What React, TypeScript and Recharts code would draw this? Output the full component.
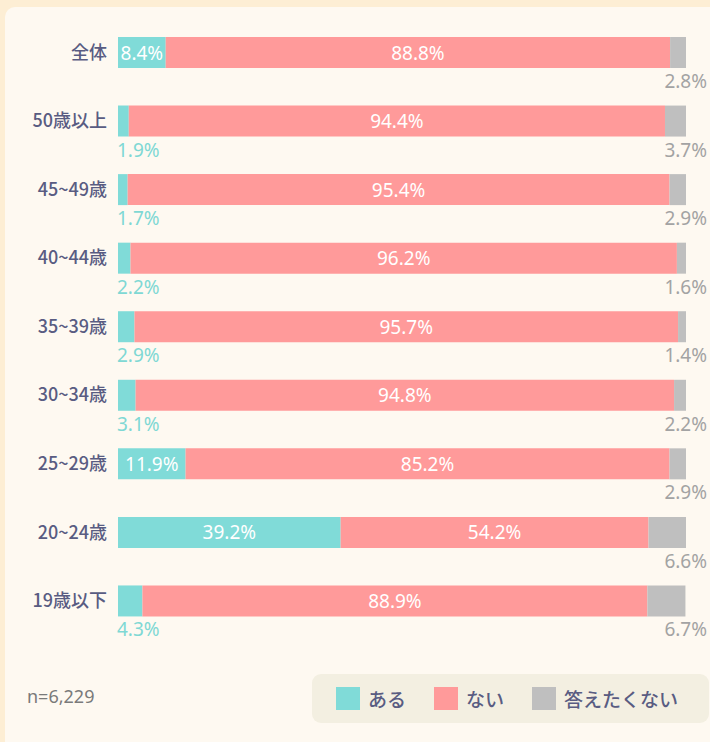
import { Bar, BarChart, LabelList, XAxis, YAxis } from "recharts";

const categories = ["全体", "50歳以上", "45~49歳", "40~44歳", "35~39歳", "30~34歳", "25~29歳", "20~24歳", "19歳以下"];
const aru = [8.4, 1.9, 1.7, 2.2, 2.9, 3.1, 11.9, 39.2, 4.3];
const nai = [88.8, 94.4, 95.4, 96.2, 95.7, 94.8, 85.2, 54.2, 88.9];
const noAnswer = [2.8, 3.7, 2.9, 1.6, 1.4, 2.2, 2.9, 6.6, 6.7];
const seriesNames = ["ある", "ない", "答えたくない"];
const sampleNote = "n=6,229";

const data = categories.map((name, i) => ({
  name,
  aru: aru[i],
  nai: nai[i],
  noAnswer: noAnswer[i],
}));

const COLORS = ["#80dbd8", "#ff9a9a", "#bfbfbf"];
const FONT = "'Noto Sans', 'Noto Sans CJK JP', sans-serif";
const JP_FONT = "'Noto Sans CJK JP', sans-serif";

const fmt = (v) => `${Number(v).toFixed(1)}%`;

function AruLabel(props) {
  const { x, y, width, height, value } = props;
  if (value >= 5) {
    return (
      <text x={x + width / 2} y={y + height / 2} fill="#fff" fontSize={19} textAnchor="middle" dominantBaseline="central" fontFamily={FONT}>
        {fmt(value)}
      </text>
    );
  }
  return (
    <text x={x - 1} y={y + height + 13} fill="#7fd8d4" fontSize={19} textAnchor="start" dominantBaseline="central" fontFamily={FONT}>
      {fmt(value)}
    </text>
  );
}

function NaiLabel(props) {
  const { x, y, width, height, value } = props;
  return (
    <text x={x + width / 2} y={y + height / 2} fill="#fff" fontSize={19} textAnchor="middle" dominantBaseline="central" fontFamily={FONT}>
      {fmt(value)}
    </text>
  );
}

function NoAnswerLabel(props) {
  const { y, height, value } = props;
  return (
    <text x={707} y={y + height + 13} fill="#a3a3a3" fontSize={19} textAnchor="end" dominantBaseline="central" fontFamily={FONT}>
      {fmt(value)}
    </text>
  );
}

export default function App() {
  return (
    <div style={{ position: "absolute", top: 0, left: 0, width: 710, height: 742, background: "#fdeed4", overflow: "hidden", fontFamily: FONT }}>
      <div style={{ position: "absolute", left: 5, top: 7, width: 720, height: 760, background: "#fef9f1", borderRadius: 10 }} />
      <div style={{ position: "absolute", left: 0, top: 0 }}>
        <BarChart width={710} height={742} data={data} layout="vertical" margin={{ top: 18, right: 24, bottom: 107, left: 0 }} barSize={31}>
          <XAxis type="number" domain={[0, 100]} hide allowDataOverflow />
          <YAxis
            type="category"
            dataKey="name"
            width={118}
            axisLine={false}
            tickLine={false}
            tickSize={0}
            tickMargin={11}
            tick={{ fill: "#595c82", fontSize: 18, fontWeight: 500, fontFamily: JP_FONT }}
          />
          <Bar dataKey="aru" stackId="a" fill={COLORS[0]} isAnimationActive={false}>
            <LabelList dataKey="aru" content={AruLabel} />
          </Bar>
          <Bar dataKey="nai" stackId="a" fill={COLORS[1]} isAnimationActive={false}>
            <LabelList dataKey="nai" content={NaiLabel} />
          </Bar>
          <Bar dataKey="noAnswer" stackId="a" fill={COLORS[2]} isAnimationActive={false}>
            <LabelList dataKey="noAnswer" content={NoAnswerLabel} />
          </Bar>
        </BarChart>
      </div>
      <div style={{ position: "absolute", left: 27, top: 684, fontSize: 18, color: "#7a7a7a" }}>{sampleNote}</div>
      <div
        style={{
          position: "absolute",
          left: 312,
          top: 674,
          width: 397,
          height: 49,
          background: "#f3efe1",
          borderRadius: 9,
          display: "flex",
          alignItems: "center",
          paddingLeft: 24,
          boxSizing: "border-box",
          whiteSpace: "nowrap",
        }}
      >
        {seriesNames.map((s, i) => (
          <div key={s} style={{ display: "flex", alignItems: "center", marginRight: 28, flexShrink: 0 }}>
            <div style={{ width: 24, height: 23, background: COLORS[i], marginRight: 8, flexShrink: 0 }} />
            <span style={{ fontSize: 19, fontWeight: 500, color: "#595c82", fontFamily: JP_FONT }}>{s}</span>
          </div>
        ))}
      </div>
    </div>
  );
}
